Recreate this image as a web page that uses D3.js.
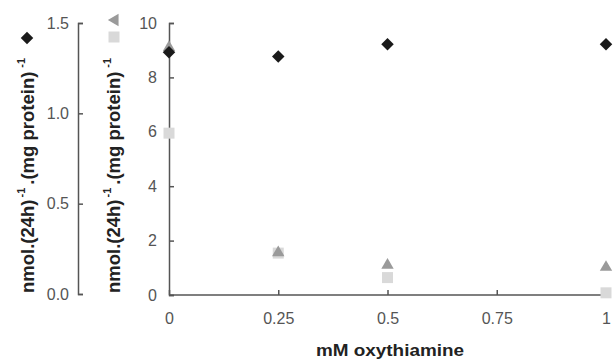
<!DOCTYPE html>
<html>
<head>
<meta charset="utf-8">
<script src="https://cdn.jsdelivr.net/npm/d3@7"></script>
<style>
  body { margin: 0; background: #fff; }
  svg { display: block; font-family: "Liberation Sans", Arial, sans-serif; }
</style>
</head>
<body>
<div id="chart"></div>
<script>
// mM oxythiamine concentrations
var doses = [0, 0.25, 0.5, 1];
var xTicks = [0, 0.25, 0.5, 0.75, 1];
// diamond series, left axis (0 - 1.5)
var diamondVals = [1.338, 1.314, 1.382, 1.382];
// triangle and square series, right axis (0 - 10)
var triangleVals = [9.1, 1.56, 1.1, 1.02];
var squareVals = [5.95, 1.54, 0.64, 0.08];
var leftTicks = [0, 0.5, 1.0, 1.5];
var rightTicks = [0, 2, 4, 6, 8, 10];

var width = 614, height = 359;
var svg = d3.select('#chart').append('svg')
  .attr('width', width)
  .attr('height', height);

var x = d3.scaleLinear().domain([0, 1]).range([169, 606]);
var yR = d3.scaleLinear().domain([0, 10]).range([295, 23]);
var yL = d3.scaleLinear().domain([0, 1.5]).range([294, 23]);

function styleAxis(g){
  g.selectAll('path, line').attr('stroke', '#555').attr('stroke-width', 1.5);
  g.selectAll('text').attr('fill', '#555').attr('font-size', 16);
}

// left axis
svg.append('g')
  .attr('transform', 'translate(78,0)')
  .call(d3.axisLeft(yL).tickValues(leftTicks).tickFormat(d3.format('.1f'))
    .tickSizeInner(-5).tickSizeOuter(-5).tickPadding(9))
  .call(styleAxis);

// right (main) axis
svg.append('g')
  .attr('transform', 'translate(169,0)')
  .call(d3.axisLeft(yR).tickValues(rightTicks).tickFormat(d3.format('d'))
    .tickSizeInner(-5).tickSizeOuter(-5).tickPadding(12))
  .call(styleAxis);

// x axis
svg.append('g')
  .attr('transform', 'translate(0,295)')
  .call(d3.axisBottom(x).tickValues(xTicks).tickFormat(function(d){ return '' + d; })
    .tickSizeInner(-5).tickSizeOuter(0).tickPadding(18))
  .call(function(g){
    styleAxis(g);
    g.select('.domain').attr('d', 'M' + x(0) + ',0H' + x(1));
  });

svg.append('text')
  .attr('x', 390).attr('y', 356)
  .attr('text-anchor', 'middle')
  .attr('font-size', 16).attr('font-weight', 'bold').attr('fill', '#222')
  .attr('textLength', 148).attr('lengthAdjust', 'spacingAndGlyphs')
  .text('mM oxythiamine');

// y titles
function yTitle(cx){
  var t = svg.append('text')
    .attr('transform', 'translate(' + cx + ',293) rotate(-90)')
    .attr('font-size', 18.5).attr('font-weight', 'bold').attr('fill', '#222');
  t.append('tspan').text('nmol.(24h)');
  t.append('tspan').attr('dy', -9).attr('dx', 2).attr('font-size', 11).text('-1');
  t.append('tspan').attr('dy', 9).attr('dx', 3).text('.(mg protein)');
  t.append('tspan').attr('dy', -9).attr('dx', 4).attr('font-size', 11).text('-1');
  return t;
}
yTitle(34);
yTitle(120);

var diamond = d3.symbol().type(d3.symbolSquare).size(78);
var tri = d3.symbol().type(d3.symbolTriangle).size(66);
var sq = d3.symbol().type(d3.symbolSquare).size(121);

// legend markers
svg.append('path').attr('d', diamond())
  .attr('transform', 'translate(27,38) rotate(45)').attr('fill', '#1a1a1a');
svg.append('path').attr('d', d3.symbol().type(d3.symbolTriangle).size(66)())
  .attr('transform', 'translate(115,20) rotate(-90)').attr('fill', '#9a9a9a');
svg.append('path').attr('d', sq())
  .attr('transform', 'translate(114,37)').attr('fill', '#d9d9d9');

// data markers
svg.selectAll('.sq')
  .data(squareVals)
  .enter()
  .append('path')
  .attr('class', 'sq')
  .attr('d', sq())
  .attr('transform', function(d, i){ return 'translate(' + x(doses[i]) + ',' + yR(d) + ')'; })
  .attr('fill', '#d9d9d9');

svg.selectAll('.tri')
  .data(triangleVals)
  .enter()
  .append('path')
  .attr('class', 'tri')
  .attr('d', tri())
  .attr('transform', function(d, i){ return 'translate(' + x(doses[i]) + ',' + yR(d) + ')'; })
  .attr('fill', '#9a9a9a');

svg.selectAll('.dia')
  .data(diamondVals)
  .enter()
  .append('path')
  .attr('class', 'dia')
  .attr('d', diamond())
  .attr('transform', function(d, i){ return 'translate(' + x(doses[i]) + ',' + yL(d) + ') rotate(45)'; })
  .attr('fill', '#1a1a1a');
</script>
</body>
</html>
